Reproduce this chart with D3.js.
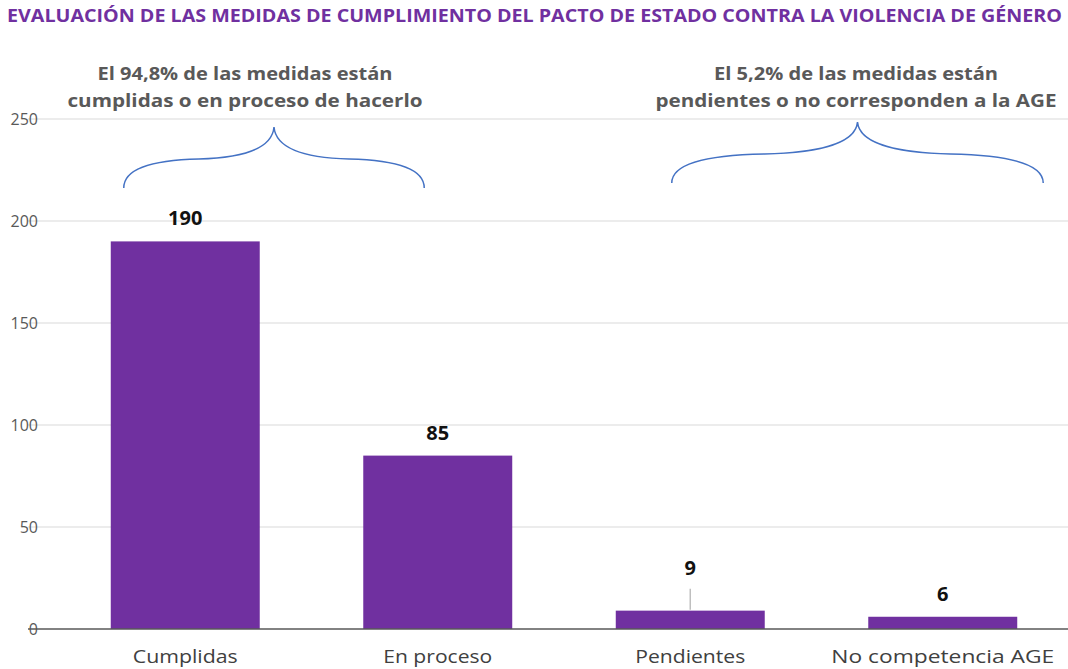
<!DOCTYPE html>
<html><head><meta charset="utf-8">
<script src="https://cdn.jsdelivr.net/npm/d3@7"></script>
<style>body{margin:0;background:#fff}svg{display:block}</style>
</head><body>
<svg id="c" width="1068" height="669"></svg>
<script>
const categories = ["Cumplidas", "En proceso", "Pendientes", "No competencia AGE"];
const values = [190, 85, 9, 6];
const yTicks = [0, 50, 100, 150, 200, 250];
const title = "EVALUACIÓN DE LAS MEDIDAS DE CUMPLIMIENTO DEL PACTO DE ESTADO CONTRA LA VIOLENCIA DE GÉNERO";
const noteLeft = ["El 94,8% de las medidas están", "cumplidas o en proceso de hacerlo"];
const noteRight = ["El 5,2% de las medidas están", "pendientes o no corresponden a la AGE"];

const svg = d3.select("#c");
const font = "'Open Sans', sans-serif";
const x = d3.scaleBand().domain(categories).range([59, 1069]).paddingInner(0.41).paddingOuter(0.205);
const y = d3.scaleLinear().domain([0, 250]).range([629, 119]);

// title
svg.append("text").attr("x", 7).attr("y", 22).attr("textLength", 1055).attr("lengthAdjust", "spacingAndGlyphs")
  .attr("font-family", font).attr("font-weight", "bold").attr("font-size", 17).attr("fill", "#7030A0").text(title);

// gridlines
svg.append("g").selectAll("line").data(yTicks.filter(d => d > 0)).join("line")
  .attr("x1", 28).attr("x2", 1068).attr("y1", d => y(d)).attr("y2", d => y(d))
  .attr("stroke", "#d9d9d9").attr("stroke-width", 1);

// y tick labels
svg.append("g").selectAll("text").data(yTicks).join("text")
  .attr("x", 38).attr("y", d => y(d) + 6).attr("text-anchor", "end")
  .attr("font-family", font).attr("font-size", 16).attr("fill", "#595959").text(d => d);

// bars
svg.append("g").selectAll("rect").data(values).join("rect")
  .attr("x", (d, i) => x(categories[i])).attr("width", x.bandwidth())
  .attr("y", d => y(d)).attr("height", d => y(0) - y(d)).attr("fill", "#7030A0");

// baseline
svg.append("line").attr("x1", 28).attr("x2", 1068).attr("y1", y(0)).attr("y2", y(0))
  .attr("stroke", "#595959").attr("stroke-width", 1.5);

// value labels
const labelOffset = [0, 0, 20, 0];
svg.append("g").selectAll("text").data(values).join("text")
  .attr("x", (d, i) => x(categories[i]) + x.bandwidth() / 2)
  .attr("y", (d, i) => y(d) - 16 - labelOffset[i])
  .attr("text-anchor", "middle").attr("font-family", font).attr("font-weight", "bold")
  .attr("font-size", 20).attr("fill", "#111").text(d => d);
// leader line for Pendientes
svg.append("line").attr("x1", x(categories[2]) + x.bandwidth() / 2).attr("x2", x(categories[2]) + x.bandwidth() / 2)
  .attr("y1", y(values[2]) - 22).attr("y2", y(values[2]) - 1).attr("stroke", "#bfbfbf").attr("stroke-width", 1.5);

// category labels
const catWidths = [105, 109, 110, 223];
svg.append("g").selectAll("text").data(categories).join("text")
  .attr("x", d => x(d) + x.bandwidth() / 2).attr("y", 663).attr("text-anchor", "middle")
  .attr("textLength", (d, i) => catWidths[i]).attr("lengthAdjust", "spacingAndGlyphs")
  .attr("font-family", font).attr("font-size", 18).attr("fill", "#404040").text(d => d);

// annotations
function note(lines, cx, widths) {
  svg.append("g").selectAll("text").data(lines).join("text")
    .attr("x", cx).attr("y", (d, i) => 80 + i * 27).attr("text-anchor", "middle")
    .attr("textLength", (d, i) => widths[i]).attr("lengthAdjust", "spacingAndGlyphs")
    .attr("font-family", font).attr("font-weight", "bold").attr("font-size", 18).attr("fill", "#595959").text(d => d);
}
note(noteLeft, 245, [295, 355]);
note(noteRight, 856, [284, 401]);

// braces
function brace(x0, x1, yEnd, yTip) {
  const xm = (x0 + x1) / 2, yf = yEnd - 28, w = x1 - x0;
  const p = `M${x0},${yEnd} C${x0},${yEnd - 20} ${x0 + w * 0.1},${yf} ${x0 + w * 0.25},${yf - 1}
    C${xm - w * 0.12},${yf - 2} ${xm - 2},${yf - 10} ${xm},${yTip}
    C${xm + 2},${yf - 10} ${xm + w * 0.12},${yf - 2} ${x1 - w * 0.25},${yf - 1}
    C${x1 - w * 0.1},${yf} ${x1},${yEnd - 20} ${x1},${yEnd}`;
  svg.append("path").attr("d", p).attr("fill", "none").attr("stroke", "#4472C4").attr("stroke-width", 1.5);
}
brace(x(categories[0]) + 13, x(categories[1]) + x.bandwidth() - 88, 188, 127);
brace(x(categories[2]) + 56, x(categories[3]) + x.bandwidth() + 26, 183, 122);
</script>
</body></html>
